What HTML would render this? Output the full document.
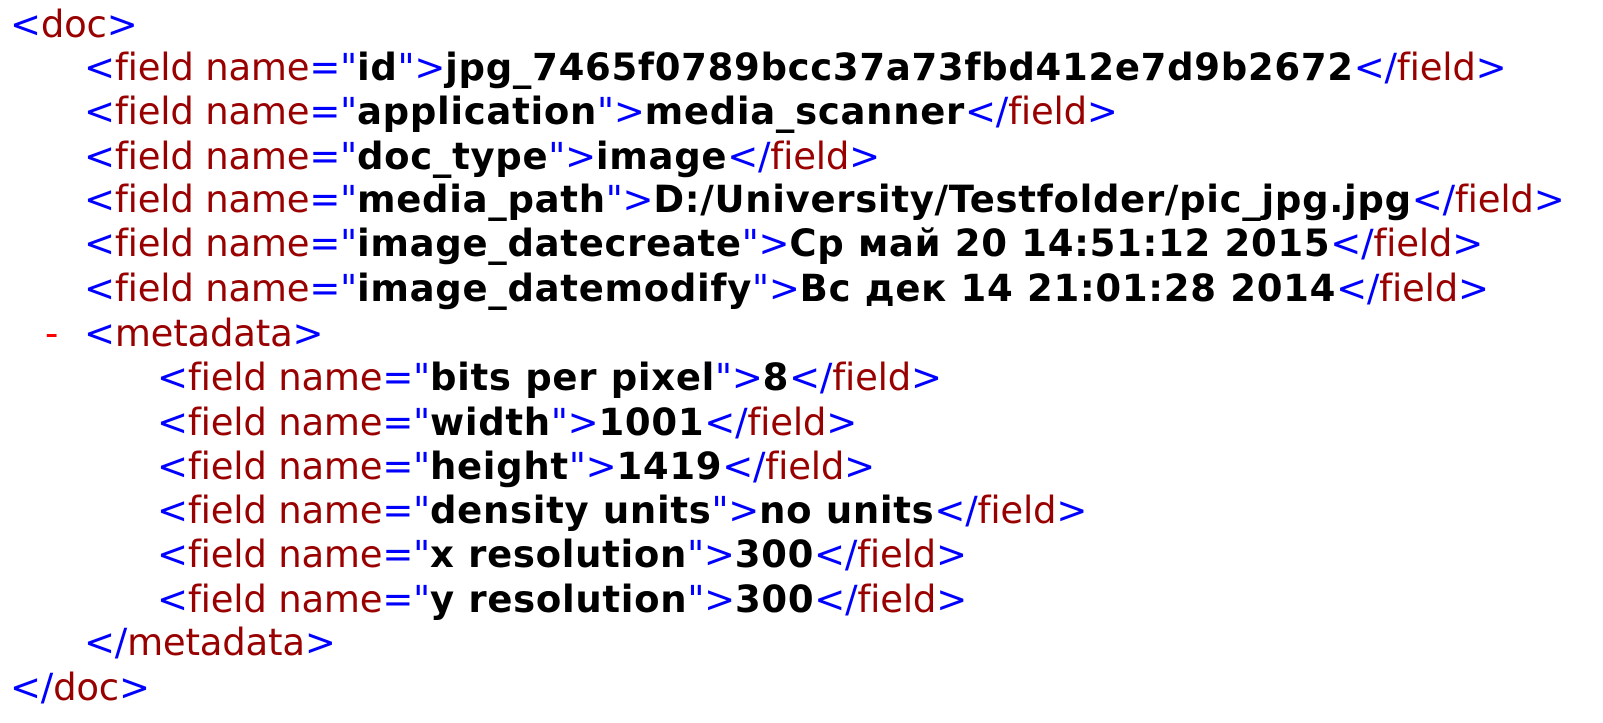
<!DOCTYPE html>
<html><head><meta charset="utf-8"><style>
html,body{margin:0;padding:0;background:#fff;width:1603px;height:723px;overflow:hidden}
.l{position:absolute;left:0;height:44px;line-height:44px;white-space:pre;font-family:"DejaVu Sans","Liberation Sans",sans-serif;font-size:37px;letter-spacing:-0.2px;color:#0000ff;font-variant-ligatures:none;font-feature-settings:"liga" 0}
.t{color:#990000}
.v{color:#000;font-weight:bold;letter-spacing:0.7px}
.m{color:#ff0000}
</style></head><body>
<div class="l" style="top:3px;left:10px">&lt;<span class="t">doc</span>&gt;</div>
<div class="l" style="top:46px;left:84px">&lt;<span class="t">field name</span>="<span class="v">id</span>"&gt;<span class="v">jpg_7465f0789bcc37a73fbd412e7d9b2672</span>&lt;/<span class="t">field</span>&gt;</div>
<div class="l" style="top:90px;left:84px">&lt;<span class="t">field name</span>="<span class="v">application</span>"&gt;<span class="v">media_scanner</span>&lt;/<span class="t">field</span>&gt;</div>
<div class="l" style="top:135px;left:84px">&lt;<span class="t">field name</span>="<span class="v">doc_type</span>"&gt;<span class="v">image</span>&lt;/<span class="t">field</span>&gt;</div>
<div class="l" style="top:178px;left:84px">&lt;<span class="t">field name</span>="<span class="v">media_path</span>"&gt;<span class="v">D:/University/Testfolder/pic_jpg.jpg</span>&lt;/<span class="t">field</span>&gt;</div>
<div class="l" style="top:222px;left:84px">&lt;<span class="t">field name</span>="<span class="v">image_datecreate</span>"&gt;<span class="v">Ср май 20 14:51:12 2015</span>&lt;/<span class="t">field</span>&gt;</div>
<div class="l" style="top:267px;left:84px">&lt;<span class="t">field name</span>="<span class="v">image_datemodify</span>"&gt;<span class="v">Вс дек 14 21:01:28 2014</span>&lt;/<span class="t">field</span>&gt;</div>
<div class="l m" style="top:312px;left:45px">-</div>
<div class="l" style="top:312px;left:84px">&lt;<span class="t">metadata</span>&gt;</div>
<div class="l" style="top:356px;left:157px">&lt;<span class="t">field name</span>="<span class="v">bits per pixel</span>"&gt;<span class="v">8</span>&lt;/<span class="t">field</span>&gt;</div>
<div class="l" style="top:401px;left:157px">&lt;<span class="t">field name</span>="<span class="v">width</span>"&gt;<span class="v">1001</span>&lt;/<span class="t">field</span>&gt;</div>
<div class="l" style="top:445px;left:157px">&lt;<span class="t">field name</span>="<span class="v">height</span>"&gt;<span class="v">1419</span>&lt;/<span class="t">field</span>&gt;</div>
<div class="l" style="top:489px;left:157px">&lt;<span class="t">field name</span>="<span class="v">density units</span>"&gt;<span class="v">no units</span>&lt;/<span class="t">field</span>&gt;</div>
<div class="l" style="top:533px;left:157px">&lt;<span class="t">field name</span>="<span class="v">x resolution</span>"&gt;<span class="v">300</span>&lt;/<span class="t">field</span>&gt;</div>
<div class="l" style="top:578px;left:157px">&lt;<span class="t">field name</span>="<span class="v">y resolution</span>"&gt;<span class="v">300</span>&lt;/<span class="t">field</span>&gt;</div>
<div class="l" style="top:621px;left:84px">&lt;/<span class="t">metadata</span>&gt;</div>
<div class="l" style="top:666px;left:10px">&lt;/<span class="t">doc</span>&gt;</div>
</body></html>
